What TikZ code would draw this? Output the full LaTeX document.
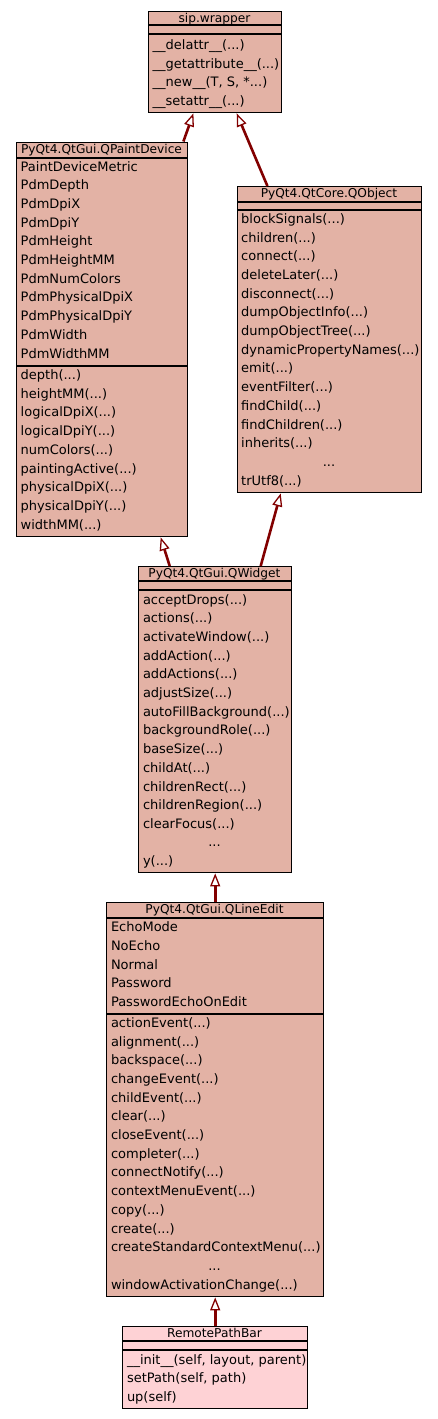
\documentclass[tikz,border=0pt]{standalone}
\usepackage{fontspec}
\setmainfont{DejaVu Sans}
\usepackage{xcolor}
\usetikzlibrary{arrows.meta}
\definecolor{clsfill}{RGB}{227,178,165}
\definecolor{ownfill}{RGB}{254,210,213}
\definecolor{edgered}{RGB}{130,0,0}
\newcommand\tdots{...}
\newcommand\args{(\tdots)}

\begin{document}
\begin{tikzpicture}[
          x=1pt, y=-1pt,
          cls/.style={draw=black, fill=clsfill, line width=1.4pt, anchor=north west, inner sep=0pt},
          own/.style={cls, fill=ownfill},
          sep/.style={line width=1.4pt},
          ttl/.style={anchor=base, inner sep=0pt, font=\fontsize{12.2}{14}\selectfont},
          mem/.style={anchor=base west, inner sep=0pt, font=\fontsize{13}{15}\selectfont},
          dots/.style={anchor=base, inner sep=0pt, font=\fontsize{13}{15}\selectfont},
          inh/.style={draw=edgered, line width=2.6pt, -{Triangle[length=13pt, width=10pt, fill=white, line width=1.3pt]}}
      ]
        \useasboundingbox (0,0) rectangle (437,1419);
        % sip.wrapper
        \node[cls, minimum width=133pt, minimum height=101pt] (sip) at (148,11) {};
        \draw[sep] ([yshift=-14pt]sip.north west) -- ([yshift=-14pt]sip.north east);
        \draw[sep] ([yshift=-23pt]sip.north west) -- ([yshift=-23pt]sip.north east);
        \node[ttl] (sipt) at (214.5,22.6) {sip.wrapper};
        \foreach \m [count=\i from 0] in {\_\_delattr\_\_\args, \_\_getattribute\_\_\args, {\_\_new\_\_(T, S, *\tdots)}, \_\_setattr\_\_\args}
          \node[mem] (sipm\i) at (152.5,49.5+18.7*\i) {\m};
        % QPaintDevice
        \node[cls, minimum width=171pt, minimum height=394.5pt] (qpd) at (16,141.5) {};
        \draw[sep] ([yshift=-16.5pt]qpd.north west) -- ([yshift=-16.5pt]qpd.north east);
        \draw[sep] ([yshift=-224.5pt]qpd.north west) -- ([yshift=-224.5pt]qpd.north east);
        \node[ttl] (qpdt) at (101.5,153.3) {PyQt4.QtGui.QPaintDevice};
        \foreach \m [count=\i from 0] in {PaintDeviceMetric, PdmDepth, PdmDpiX, PdmDpiY, PdmHeight, PdmHeightMM, PdmNumColors, PdmPhysicalDpiX, PdmPhysicalDpiY, PdmWidth, PdmWidthMM}
          \node[mem] (qpda\i) at (20.5,171+18.7*\i) {\m};
        \foreach \m [count=\i from 0] in {depth\args, heightMM\args, logicalDpiX\args, logicalDpiY\args, numColors\args, paintingActive\args, physicalDpiX\args, physicalDpiY\args, widthMM\args}
          \node[mem] (qpdm\i) at (20.5,379.3+18.75*\i) {\m};
        % QObject
        \node[cls, minimum width=184pt, minimum height=306pt] (qobj) at (237,186) {};
        \draw[sep] ([yshift=-16pt]qobj.north west) -- ([yshift=-16pt]qobj.north east);
        \draw[sep] ([yshift=-24pt]qobj.north west) -- ([yshift=-24pt]qobj.north east);
        \node[ttl] (qobjt) at (329,197.8) {PyQt4.QtCore.QObject};
        \foreach \m [count=\i from 0] in {blockSignals\args, children\args, connect\args, deleteLater\args, disconnect\args, dumpObjectInfo\args, dumpObjectTree\args, dynamicPropertyNames\args, emit\args, eventFilter\args, findChild\args, findChildren\args, inherits\args}
          \node[mem] (qobjm\i) at (241,223.3+18.7*\i) {\m};
        \node[dots] (qobjd) at (329,466) {\tdots};
        \node[mem] (qobjl) at (241,485) {trUtf8\args};
        % QWidget
        \node[cls, minimum width=153pt, minimum height=306pt] (qw) at (138,566) {};
        \draw[sep] ([yshift=-15pt]qw.north west) -- ([yshift=-15pt]qw.north east);
        \draw[sep] ([yshift=-24pt]qw.north west) -- ([yshift=-24pt]qw.north east);
        \node[ttl] (qwt) at (214.5,577.8) {PyQt4.QtGui.QWidget};
        \foreach \m [count=\i from 0] in {acceptDrops\args, actions\args, activateWindow\args, addAction\args, addActions\args, adjustSize\args, autoFillBackground\args, backgroundRole\args, baseSize\args, childAt\args, childrenRect\args, childrenRegion\args, clearFocus\args}
          \node[mem] (qwm\i) at (142.8,604+18.7*\i) {\m};
        \node[dots] (qwd) at (214.5,846.7) {\tdots};
        \node[mem] (qwl) at (142.8,865.6) {y\args};
        % QLineEdit
        \node[cls, minimum width=217pt, minimum height=394pt] (qle) at (106,902) {};
        \draw[sep] ([yshift=-16pt]qle.north west) -- ([yshift=-16pt]qle.north east);
        \draw[sep] ([yshift=-112pt]qle.north west) -- ([yshift=-112pt]qle.north east);
        \node[ttl] (qlet) at (214.5,913.8) {PyQt4.QtGui.QLineEdit};
        \foreach \m [count=\i from 0] in {EchoMode, NoEcho, Normal, Password, PasswordEchoOnEdit}
          \node[mem] (qlea\i) at (110.8,931.7+18.7*\i) {\m};
        \foreach \m [count=\i from 0] in {actionEvent\args, alignment\args, backspace\args, changeEvent\args, childEvent\args, clear\args, closeEvent\args, completer\args, connectNotify\args, contextMenuEvent\args, copy\args, create\args, createStandardContextMenu\args}
          \node[mem] (qlem\i) at (110.8,1027.3+18.7*\i) {\m};
        \node[dots] (qled) at (214.5,1270.4) {\tdots};
        \node[mem] (qlel) at (110.8,1289.2) {windowActivationChange\args};
        % RemotePathBar
        \node[own, minimum width=185pt, minimum height=82pt] (rpb) at (122,1326) {};
        \draw[sep] ([yshift=-15pt]rpb.north west) -- ([yshift=-15pt]rpb.north east);
        \draw[sep] ([yshift=-24pt]rpb.north west) -- ([yshift=-24pt]rpb.north east);
        \node[ttl] (rpbt) at (214.5,1337.8) {RemotePathBar};
        \foreach \m [count=\i from 0] in {{\_\_init\_\_(self, layout, parent)}, {setPath(self, path)}, up(self)}
          \node[mem] (rpbm\i) at (126.8,1364+18.7*\i) {\m};
        % inheritance
        \draw[inh] ([xshift=81.2pt]qpd.north) -- ([xshift=-21.8pt]sip.south);
        \draw[inh] ([xshift=-62.3pt]qobj.north) -- ([xshift=21.5pt]sip.south);
        \draw[inh] ([xshift=-45.5pt]qw.north) -- ([xshift=58.5pt]qpd.south);
        \draw[inh] ([xshift=45.5pt]qw.north) -- ([xshift=-49pt]qobj.south);
        \draw[inh] (qle.north) -- (qw.south);
        \draw[inh] (rpb.north) -- (qle.south);
      \end{tikzpicture}
\end{document}
